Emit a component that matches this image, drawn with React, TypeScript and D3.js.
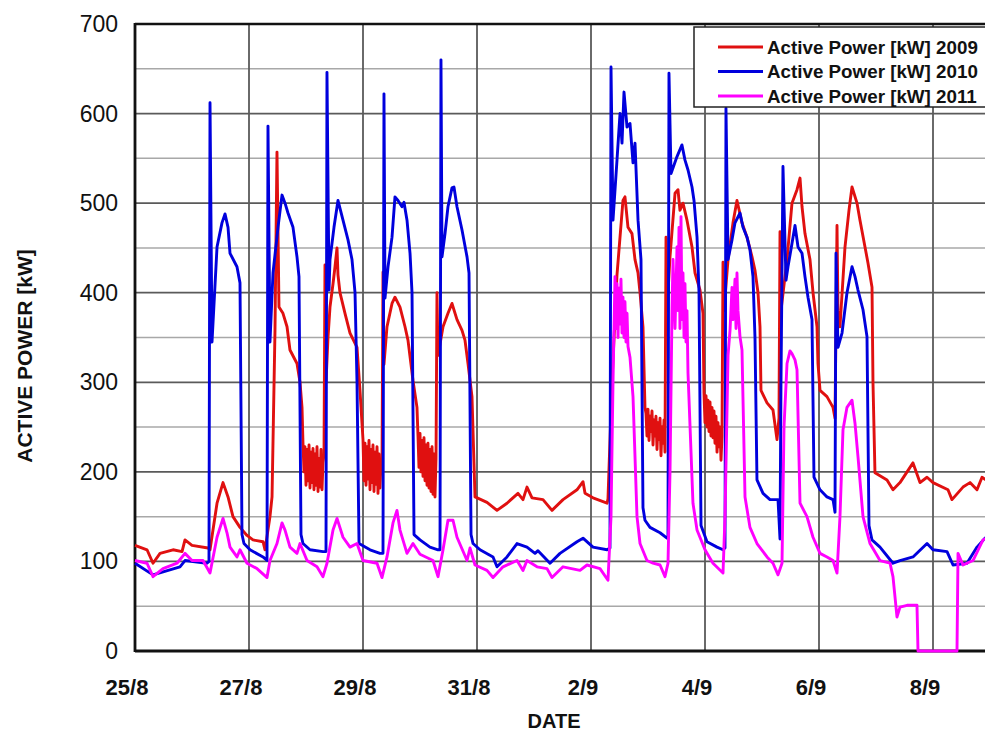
import React from 'react';
import * as d3 from 'd3';

// Time axis: days elapsed since 25/8 00:00.
const xTickDays = [0, 2, 4, 6, 8, 10, 12, 14];
const xTickLabels = ['25/8', '27/8', '29/8', '31/8', '2/9', '4/9', '6/9', '8/9'];
const yTicks = [0, 100, 200, 300, 400, 500, 600, 700];
const yMinorTicks = [50, 150, 250, 350, 450, 550, 650];

const seriesNames = [
  'Active Power [kW] 2009',
  'Active Power [kW] 2010',
  'Active Power [kW] 2011',
];
const seriesColors = ['#e01010', '#0000dd', '#ff00ff'];

// [day, kW]
const power2009: [number, number][] = [
  [0.000, 118], [0.211, 113], [0.316, 98], [0.439, 109], [0.667, 113], [0.825, 111], [0.877, 124], [1.000, 118],
  [1.281, 115], [1.316, 113], [1.439, 165], [1.544, 188], [1.632, 172], [1.719, 150], [1.842, 138], [1.965, 129],
  [2.070, 124], [2.246, 122], [2.281, 113], [2.368, 150], [2.404, 172], [2.456, 358], [2.491, 557], [2.526, 384],
  [2.596, 377], [2.667, 362], [2.719, 336], [2.842, 321], [2.895, 300], [2.930, 272], [2.947, 232],
  [2.965, 200], [2.982, 228], [3.000, 185], [3.018, 225], [3.035, 190], [3.053, 230], [3.070, 182], [3.088, 222],
  [3.105, 188], [3.123, 226], [3.140, 180], [3.158, 220], [3.175, 185], [3.193, 228], [3.211, 178], [3.228, 215],
  [3.246, 183], [3.263, 225], [3.281, 180], [3.298, 210], [3.316, 220],
  [3.333, 431], [3.351, 300], [3.386, 350], [3.421, 384], [3.474, 410], [3.509, 429], [3.544, 450], [3.561, 420],
  [3.596, 400], [3.684, 377], [3.772, 355], [3.895, 339], [3.947, 291], [4.000, 236],
  [4.018, 190], [4.035, 232], [4.053, 185], [4.070, 228], [4.088, 192], [4.105, 235], [4.123, 180], [4.140, 225],
  [4.158, 188], [4.175, 230], [4.193, 178], [4.211, 222], [4.228, 186], [4.246, 228], [4.263, 176], [4.281, 220],
  [4.298, 182], [4.316, 210], [4.333, 200],
  [4.351, 423], [4.368, 320], [4.421, 362], [4.509, 388], [4.561, 395], [4.649, 384], [4.737, 362], [4.789, 347],
  [4.877, 302], [4.947, 272],
  [4.965, 240], [4.982, 205], [5.000, 243], [5.018, 200], [5.035, 235], [5.053, 195], [5.070, 238], [5.088, 190],
  [5.105, 230], [5.123, 185], [5.140, 232], [5.158, 182], [5.175, 225], [5.193, 178], [5.211, 228], [5.228, 175],
  [5.246, 220], [5.263, 172], [5.281, 215],
  [5.298, 400], [5.316, 330], [5.404, 362], [5.491, 377], [5.561, 388], [5.649, 370], [5.737, 358], [5.789, 347],
  [5.842, 321], [5.912, 284], [5.965, 172], [6.175, 166], [6.351, 157], [6.526, 165], [6.719, 176], [6.807, 169],
  [6.877, 183], [6.965, 171], [7.158, 169], [7.316, 157], [7.509, 169], [7.754, 180], [7.860, 189], [7.895, 176],
  [8.035, 171], [8.281, 165], [8.298, 170], [8.368, 300], [8.456, 420], [8.561, 503], [8.596, 507], [8.649, 473],
  [8.719, 466], [8.772, 437], [8.825, 422], [8.860, 400], [8.912, 362], [8.947, 272],
  [8.965, 265], [8.982, 240], [9.000, 270], [9.018, 235], [9.035, 262], [9.053, 245], [9.070, 268], [9.088, 230],
  [9.105, 258], [9.123, 240], [9.140, 262], [9.158, 225], [9.175, 255], [9.193, 236], [9.211, 260], [9.228, 218],
  [9.246, 250], [9.263, 232], [9.281, 258], [9.298, 222],
  [9.316, 462], [9.333, 380], [9.386, 440], [9.474, 511], [9.526, 515], [9.561, 492], [9.614, 500], [9.684, 481],
  [9.772, 451], [9.825, 422], [9.912, 403], [9.965, 377], [9.982, 288],
  [10.000, 255], [10.018, 285], [10.035, 250], [10.053, 280], [10.070, 245], [10.088, 278], [10.105, 240],
  [10.123, 272], [10.140, 238], [10.158, 268], [10.175, 232], [10.193, 262], [10.211, 222], [10.228, 255],
  [10.246, 228], [10.263, 250], [10.281, 213], [10.298, 240],
  [10.316, 434], [10.333, 380], [10.404, 437], [10.491, 478], [10.561, 503], [10.649, 478], [10.737, 462],
  [10.825, 440], [10.877, 425], [10.930, 400], [10.965, 362], [10.982, 291], [11.088, 277], [11.193, 269],
  [11.263, 236], [11.298, 260], [11.316, 468], [11.333, 380], [11.439, 437], [11.526, 500], [11.614, 515],
  [11.667, 528], [11.702, 496], [11.754, 466], [11.842, 437], [11.895, 400], [11.965, 362], [11.982, 321],
  [12.018, 291], [12.140, 284], [12.246, 272], [12.281, 260], [12.316, 475], [12.333, 380], [12.368, 362],
  [12.456, 451], [12.526, 492], [12.579, 518], [12.667, 500], [12.719, 481], [12.807, 451], [12.860, 433],
  [12.930, 406], [12.947, 300], [12.982, 199], [13.193, 191], [13.298, 180], [13.421, 188], [13.649, 210],
  [13.772, 188], [13.895, 194], [14.000, 188], [14.263, 180], [14.333, 169], [14.526, 183], [14.649, 188],
  [14.772, 180], [14.860, 194], [15.000, 188],
];

const power2010: [number, number][] = [
  [0.000, 98], [0.316, 85], [0.789, 94], [0.877, 101], [1.263, 98], [1.298, 100], [1.316, 612], [1.351, 345],
  [1.439, 451], [1.526, 478], [1.579, 488], [1.632, 473], [1.667, 444], [1.789, 429], [1.842, 411], [1.877, 130],
  [1.912, 120], [2.018, 113], [2.246, 105], [2.316, 101], [2.333, 586], [2.368, 345], [2.421, 422], [2.509, 473],
  [2.579, 509], [2.632, 500], [2.684, 489], [2.772, 473], [2.842, 440], [2.877, 418], [2.912, 130], [2.947, 120],
  [3.070, 113], [3.298, 111], [3.351, 111], [3.368, 646], [3.404, 403], [3.421, 437], [3.491, 473], [3.561, 503],
  [3.649, 481], [3.737, 459], [3.807, 437], [3.860, 400], [3.895, 300], [3.930, 120], [4.123, 113], [4.298, 109],
  [4.351, 109], [4.368, 622], [4.386, 394], [4.439, 429], [4.509, 462], [4.561, 507], [4.614, 503], [4.684, 496],
  [4.719, 501], [4.772, 481], [4.825, 444], [4.860, 400], [4.895, 130], [5.000, 124], [5.175, 116], [5.316, 113],
  [5.351, 113], [5.368, 660], [5.386, 440], [5.439, 466], [5.491, 496], [5.561, 517], [5.596, 518], [5.649, 496],
  [5.737, 470], [5.825, 440], [5.860, 422], [5.895, 130], [5.930, 120], [6.053, 113], [6.281, 105], [6.351, 94],
  [6.526, 105], [6.702, 120], [6.877, 116], [7.018, 109], [7.070, 112], [7.281, 98], [7.456, 109], [7.754, 122],
  [7.860, 126], [8.035, 116], [8.281, 113], [8.333, 115], [8.351, 652], [8.386, 481], [8.456, 548], [8.509, 600],
  [8.544, 567], [8.579, 624], [8.632, 585], [8.684, 589], [8.737, 545], [8.772, 567], [8.825, 481], [8.877, 437],
  [8.912, 160], [8.947, 146], [9.035, 138], [9.211, 132], [9.333, 126], [9.351, 128], [9.368, 645], [9.404, 533],
  [9.509, 552], [9.596, 565], [9.649, 548], [9.702, 537], [9.772, 518], [9.807, 503], [9.860, 462], [9.895, 400],
  [9.930, 140], [10.035, 122], [10.211, 116], [10.316, 113], [10.351, 115], [10.368, 606], [10.404, 437],
  [10.474, 459], [10.526, 478], [10.614, 489], [10.667, 473], [10.737, 462], [10.789, 448], [10.842, 418],
  [10.877, 350], [10.912, 191], [11.018, 176], [11.140, 169], [11.281, 169], [11.316, 125], [11.333, 300],
  [11.368, 541], [11.421, 414], [11.456, 429], [11.526, 455], [11.579, 475], [11.632, 451], [11.702, 444],
  [11.754, 418], [11.807, 395], [11.877, 370], [11.912, 194], [12.018, 180], [12.140, 172], [12.246, 169],
  [12.281, 155], [12.298, 444], [12.333, 339], [12.404, 355], [12.491, 400], [12.579, 429], [12.632, 418],
  [12.684, 403], [12.772, 381], [12.842, 351], [12.877, 140], [12.930, 124], [13.070, 116], [13.298, 98],
  [13.421, 101], [13.649, 105], [13.895, 120], [14.000, 113], [14.246, 111], [14.351, 96], [14.596, 98],
  [14.772, 116], [14.912, 126], [15.000, 128],
];

const power2011: [number, number][] = [
  [0.000, 101], [0.211, 98], [0.316, 83], [0.491, 92], [0.737, 98], [0.877, 109], [1.000, 101], [1.193, 101],
  [1.316, 87], [1.439, 127], [1.544, 148], [1.614, 132], [1.667, 116], [1.789, 105], [1.842, 113], [1.965, 98],
  [2.140, 92], [2.316, 82], [2.368, 101], [2.491, 120], [2.579, 143], [2.632, 135], [2.719, 116], [2.842, 109],
  [2.895, 120], [3.018, 101], [3.193, 94], [3.298, 83], [3.368, 98], [3.474, 135], [3.544, 148], [3.649, 127],
  [3.772, 116], [3.895, 120], [4.000, 101], [4.246, 98], [4.333, 82], [4.421, 105], [4.526, 143], [4.596, 157],
  [4.649, 135], [4.772, 109], [4.877, 120], [5.000, 108], [5.228, 101], [5.316, 83], [5.404, 113], [5.491, 146],
  [5.579, 146], [5.649, 127], [5.825, 101], [5.877, 115], [5.965, 96], [6.175, 90], [6.281, 82], [6.456, 94],
  [6.702, 101], [6.807, 90], [6.877, 101], [7.053, 94], [7.228, 92], [7.316, 82], [7.509, 94], [7.807, 90],
  [7.930, 96], [8.158, 92], [8.298, 79], [8.351, 150], [8.386, 300], [8.421, 418], [8.439, 360], [8.456, 410],
  [8.474, 350], [8.491, 405], [8.509, 365], [8.526, 415], [8.544, 355], [8.561, 395], [8.579, 350], [8.596, 390],
  [8.614, 345], [8.632, 377], [8.649, 340], [8.684, 328], [8.737, 284], [8.807, 150], [8.860, 120], [8.982, 101],
  [9.088, 98], [9.211, 96], [9.298, 83], [9.351, 98], [9.386, 200], [9.421, 380], [9.439, 437], [9.474, 360],
  [9.509, 451], [9.526, 380], [9.544, 473], [9.561, 360], [9.579, 485], [9.596, 370], [9.614, 422], [9.632, 350],
  [9.649, 410], [9.667, 345], [9.684, 380], [9.702, 310], [9.789, 165], [9.860, 135], [10.000, 113], [10.140, 98],
  [10.316, 87], [10.351, 150], [10.404, 330], [10.439, 358], [10.474, 406], [10.491, 370], [10.526, 415],
  [10.544, 360], [10.561, 422], [10.579, 380], [10.614, 351], [10.649, 336], [10.702, 172], [10.789, 138],
  [10.912, 120], [11.088, 105], [11.193, 98], [11.281, 85], [11.351, 98], [11.386, 250], [11.439, 321],
  [11.491, 335], [11.526, 332], [11.579, 325], [11.614, 314], [11.667, 165], [11.789, 150], [11.895, 127],
  [12.018, 109], [12.140, 105], [12.246, 101], [12.316, 87], [12.368, 150], [12.421, 247], [12.491, 272],
  [12.579, 280], [12.632, 254], [12.684, 217], [12.772, 150], [12.895, 120], [13.070, 101], [13.246, 98],
  [13.298, 83], [13.368, 38], [13.421, 49], [13.544, 51], [13.719, 51], [13.737, 0], [14.421, 0], [14.439, 109],
  [14.526, 96], [14.702, 101], [14.877, 124], [15.000, 128],
];

const allSeries = [power2009, power2010, power2011];

const W = 985;
const H = 732;
const left = 135;
const top = 24;
const bottom = 651;
const dayWidth = 57;

export default function App() {
  const x = d3.scaleLinear().domain([0, 15]).range([left, left + 15 * dayWidth]);
  const y = d3.scaleLinear().domain([0, 700]).range([bottom, top]);
  const line = d3
    .line<[number, number]>()
    .x((d) => x(d[0]))
    .y((d) => y(d[1]));
  const right = x(15);
  const font = 'Arial, "Liberation Sans", sans-serif';

  return (
    <svg
      width={W}
      height={H}
      style={{ position: 'absolute', left: 0, top: 0, background: '#fff' }}
      fontFamily={font}
    >
      <rect x={0} y={0} width={W} height={H} fill="#fff" />
      {/* minor horizontal grid */}
      {yMinorTicks.map((t) => (
        <line key={'m' + t} x1={left} x2={right} y1={y(t)} y2={y(t)} stroke="#a8a8a8" strokeWidth={1.5} />
      ))}
      {/* major horizontal grid */}
      {yTicks.slice(1, -1).map((t) => (
        <line key={'g' + t} x1={left} x2={right} y1={y(t)} y2={y(t)} stroke="#5a5a5a" strokeWidth={1.8} />
      ))}
      {/* vertical grid */}
      {xTickDays.slice(1).map((d) => (
        <line key={'v' + d} x1={x(d)} x2={x(d)} y1={top} y2={bottom} stroke="#5a5a5a" strokeWidth={1.8} />
      ))}
      {/* frame */}
      <line x1={left} x2={right} y1={top} y2={top} stroke="#111" strokeWidth={2.5} />
      <line x1={left} x2={right} y1={bottom} y2={bottom} stroke="#111" strokeWidth={2.8} />
      <line x1={left} x2={left} y1={top - 1} y2={bottom + 1} stroke="#111" strokeWidth={2.8} />
      {/* series */}
      {allSeries.map((s, i) => (
        <path
          key={seriesNames[i]}
          d={line(s) || ''}
          fill="none"
          stroke={seriesColors[i]}
          strokeWidth={2.9}
          strokeLinejoin="round"
        />
      ))}
      {/* y tick labels */}
      {yTicks.map((t) => (
        <text key={'yl' + t} x={118} y={y(t) + 8} textAnchor="end" fontSize={23} fill="#111">
          {t}
        </text>
      ))}
      {/* x tick labels */}
      {xTickDays.map((d, i) => (
        <text
          key={'xl' + d}
          x={x(d) - 8}
          y={695}
          textAnchor="middle"
          fontSize={22}
          fontWeight="bold"
          fill="#111"
        >
          {xTickLabels[i]}
        </text>
      ))}
      {/* axis titles */}
      <text x={554} y={728} textAnchor="middle" fontSize={20} fontWeight="bold" fill="#111">
        DATE
      </text>
      <text
        transform="translate(32,356) rotate(-90)"
        textAnchor="middle"
        fontSize={21}
        fontWeight="bold"
        fill="#111"
      >
        ACTIVE POWER [kW]
      </text>
      {/* legend */}
      <rect x={694} y={27} width={320} height={80} fill="#fff" stroke="#222" strokeWidth={1.5} />
      {seriesNames.map((n, i) => (
        <g key={'lg' + i} transform={`translate(0,${47 + i * 24.5})`}>
          <line x1={718} x2={763} y1={0} y2={0} stroke={seriesColors[i]} strokeWidth={2.9} />
          <text x={767} y={6.5} fontSize={18.8} fontWeight="bold" fill="#111">
            {n}
          </text>
        </g>
      ))}
    </svg>
  );
}
